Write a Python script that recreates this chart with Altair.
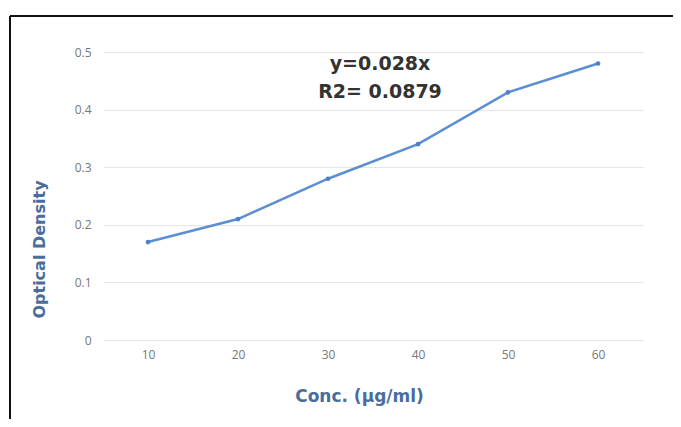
import altair as alt
import pandas as pd

conc = ["10", "20", "30", "40", "50", "60"]
od = [0.17, 0.21, 0.28, 0.34, 0.43, 0.48]
eq_lines = ["y=0.028x", "R2= 0.0879"]
y_ticks = [0, 0.1, 0.2, 0.3, 0.4, 0.5]

df = pd.DataFrame({"conc": conc, "od": od})

FONT = "Open Sans"
TFONT = "DejaVu Sans"
LINE = "#5b8fd4"
TITLE_C = "#4a6d9e"

base = alt.Chart(df)

line = base.mark_line(color=LINE, strokeWidth=2.5).encode(
    x=alt.X("conc:O", sort=conc, scale=alt.Scale(paddingInner=0, paddingOuter=0.5),
            axis=alt.Axis(title="Conc. (µg/ml)", labelAngle=0, labelColor="#777777",
                          labelFontSize=12, labelPadding=9, ticks=False, domain=False,
                          titleColor=TITLE_C, titleFontSize=17, titleFontWeight="bold",
                          titleFont=TFONT, labelFont=FONT,
                          titleX=256, titleY=56, titleAlign="center", titleBaseline="middle")),
    y=alt.Y("od:Q", scale=alt.Scale(domain=[0, 0.5], nice=False),
            axis=alt.Axis(title="Optical Density", values=y_ticks, format="~g",
                          labelColor="#777777", labelFontSize=12, labelPadding=12,
                          ticks=False, domain=False, grid=True, gridColor="#e6e6e6",
                          titleColor=TITLE_C, titleFontSize=16, titleFontWeight="bold",
                          titleFont=TFONT, labelFont=FONT,
                          titleX=-64, titleY=197, titleAngle=270,
                          titleAlign="center", titleBaseline="middle")),
)
pts = base.mark_point(filled=True, color="#4f7fc4", size=22, opacity=1).encode(
    x=alt.X("conc:O", sort=conc), y="od:Q"
)

eq_df = pd.DataFrame({"t": ["\n".join(eq_lines)]})
eq = alt.Chart(eq_df).mark_text(fontSize=19, fontWeight="bold", color="#333333",
                                font=TFONT, align="center", baseline="middle",
                                lineBreak="\n", lineHeight=28).encode(
    text="t:N",
    x=alt.value(277),
    y=alt.value(12),
)

frame_df = pd.DataFrame({"k": [0]})
top_rule = alt.Chart(frame_df).mark_rule(color="#111111", strokeWidth=2).encode(
    x=alt.value(-93), x2=alt.value(700), y=alt.value(-36))
left_rule = alt.Chart(frame_df).mark_rule(color="#111111", strokeWidth=2).encode(
    x=alt.value(-93), y=alt.value(-36), y2=alt.value(500))

chart = alt.layer(line, pts, eq, top_rule, left_rule).properties(
    width=540, height=288,
    autosize=alt.AutoSizeParams(type="none"),
    padding={"left": 95, "top": 44, "right": 30, "bottom": 79},
).configure_view(stroke=None)

chart.save("out.html", embed_options={"renderer": "svg", "actions": False})
